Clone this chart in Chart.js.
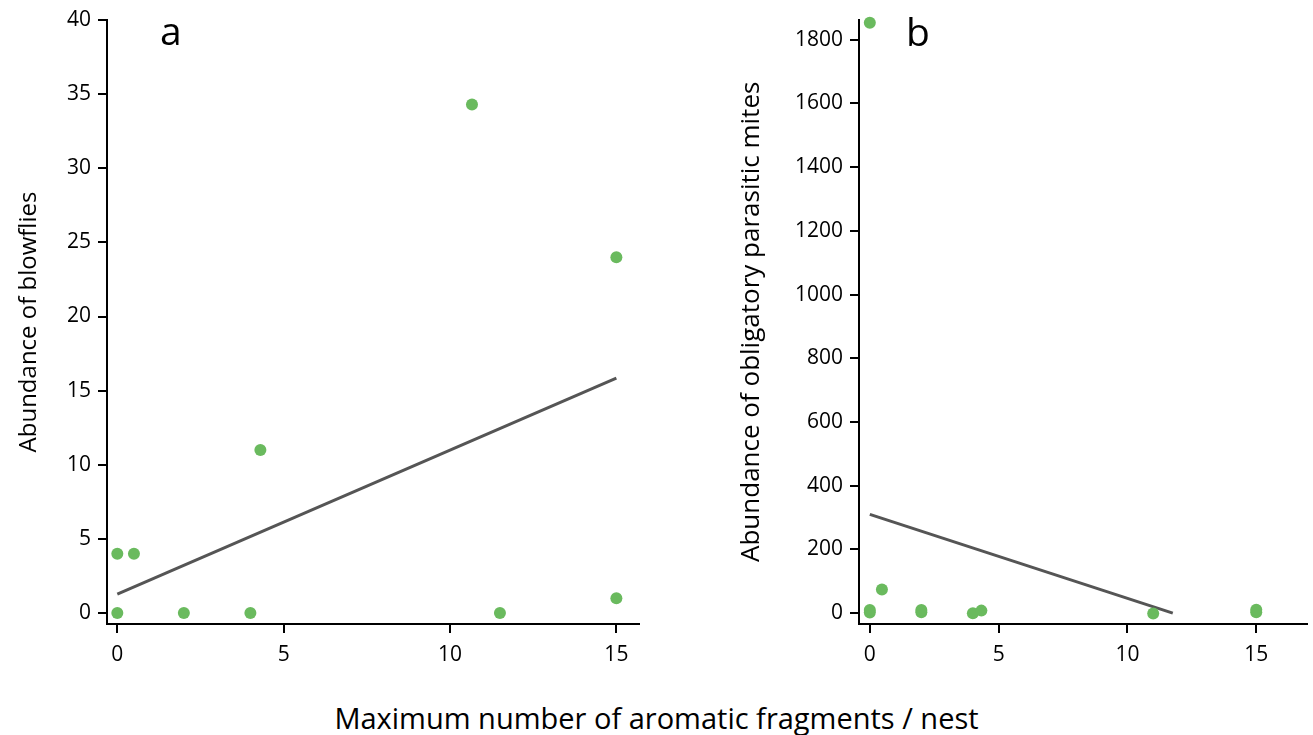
<!DOCTYPE html>
<html lang="en">
<head>
    <meta charset="UTF-8">
    <title>Aromatic fragments vs parasites</title>
    <script src="https://cdn.jsdelivr.net/npm/chart.js"></script>
    <style>
        body { margin: 0; background: #fff; font-family: "Open Sans", sans-serif; }
        #page { position: relative; width: 1313px; height: 735px; overflow: hidden; }
        .box { position: absolute; top: 0; height: 690px; }
        .panel-label { position: absolute; font-size: 39px; color: #000; line-height: 1; }
        #x-title { position: absolute; left: 0; width: 1313px; top: 698px; text-align: center; font-size: 29px; line-height: 40px; color: #000; }
    </style>
</head>
<body>
<div id="page">
    <div class="box" style="left:0; width:660px;"><canvas id="chartA"></canvas></div>
    <div class="box" style="left:720px; width:593px;"><canvas id="chartB"></canvas></div>
    <div class="panel-label" style="left:160px; top:10px;">a</div>
    <div class="panel-label" style="left:906px; top:11px;">b</div>
    <div id="x-title">Maximum number of aromatic fragments / nest</div>
</div>

<script>
    // panel a: blowflies
    const blowX = [0, 0.5, 0, 2, 4, 4.3, 10.66, 11.5, 15, 15];
    const blowY = [4, 4, 0, 0, 0, 11, 34.3, 0, 24, 1];
    const blowFitX = [0, 15];
    const blowFitY = [1.28, 15.85];
    const blowYTicks = [0, 5, 10, 15, 20, 25, 30, 35, 40];

    // panel b: obligatory parasitic mites
    const miteX = [0, 0, 0, 0.47, 2, 2, 4, 4.33, 11, 15, 15];
    const miteY = [1853, 2, 10, 74, 3, 10, 0, 8, -1, 3, 11];
    const miteFitX = [0, 11.76];
    const miteFitY = [310, 0];
    const miteYTicks = [0, 200, 400, 600, 800, 1000, 1200, 1400, 1600, 1800];

    const xTicks = [0, 5, 10, 15];

    const green = '#6aba5e';
    const lineGrey = '#555555';
    const tickFont = { family: '"Open Sans", sans-serif', size: 21 };

    function pairs(xs, ys) {
        return xs.map((x, i) => ({ x: x, y: ys[i] }));
    }

    function axis(min, max, values, fixW, fixH, pad) {
        return {
            type: 'linear',
            min: min,
            max: max,
            afterBuildTicks: s => { s.ticks = values.map(v => ({ value: v })); },
            afterFit: s => {
                if (fixW) s.width = fixW;
                if (fixH) s.height = fixH;
            },
            grid: { display: true, drawOnChartArea: false, drawTicks: true, tickLength: 9, color: '#000', lineWidth: 2 },
            border: { display: true, color: '#000', width: 2 },
            ticks: { color: '#000', font: tickFont, padding: pad, autoSkip: false, maxRotation: 0,
                callback: v => String(v) }
        };
    }

    function makeChart(id, pts, fit, xr, yr, yTicks, yWidth, title, titleSize, titlePad, pad) {
        const ctx = document.getElementById(id).getContext('2d');
        const yAxis = axis(yr[0], yr[1], yTicks, yWidth, null, 7);
        yAxis.title = { display: true, text: title, color: '#000',
            font: { family: '"Open Sans", sans-serif', size: titleSize }, padding: { top: titlePad, bottom: 0 } };
        return new Chart(ctx, {
            type: 'scatter',
            data: {
                datasets: [{
                    data: fit,
                    showLine: true,
                    borderColor: lineGrey,
                    borderWidth: 3,
                    pointRadius: 0,
                    order: 2
                }, {
                    data: pts,
                    backgroundColor: green,
                    borderColor: green,
                    pointRadius: 6,
                    pointBorderWidth: 0,
                    clip: false,
                    order: 1
                }]
            },
            options: {
                responsive: true,
                maintainAspectRatio: false,
                animation: false,
                layout: { padding: pad },
                plugins: { legend: { display: false }, tooltip: { enabled: false } },
                scales: {
                    x: axis(xr[0], xr[1], xTicks, null, 66, 9),
                    y: yAxis
                }
            }
        });
    }

    makeChart('chartA', pairs(blowX, blowY), pairs(blowFitX, blowFitY),
        [-0.31, 15.68], [-0.74, 40], blowYTicks, 107,
        'Abundance of blowflies', 24, 15, { top: 20, right: 21, left: 0, bottom: 0 });

    makeChart('chartB', pairs(miteX, miteY), pairs(miteFitX, miteFitY),
        [-0.42, 16.97], [-34, 1863], miteYTicks, 139,
        'Abundance of obligatory parasitic mites', 26, 16, { top: 19, right: 3, left: 0, bottom: 0 });
</script>
</body>
</html>
